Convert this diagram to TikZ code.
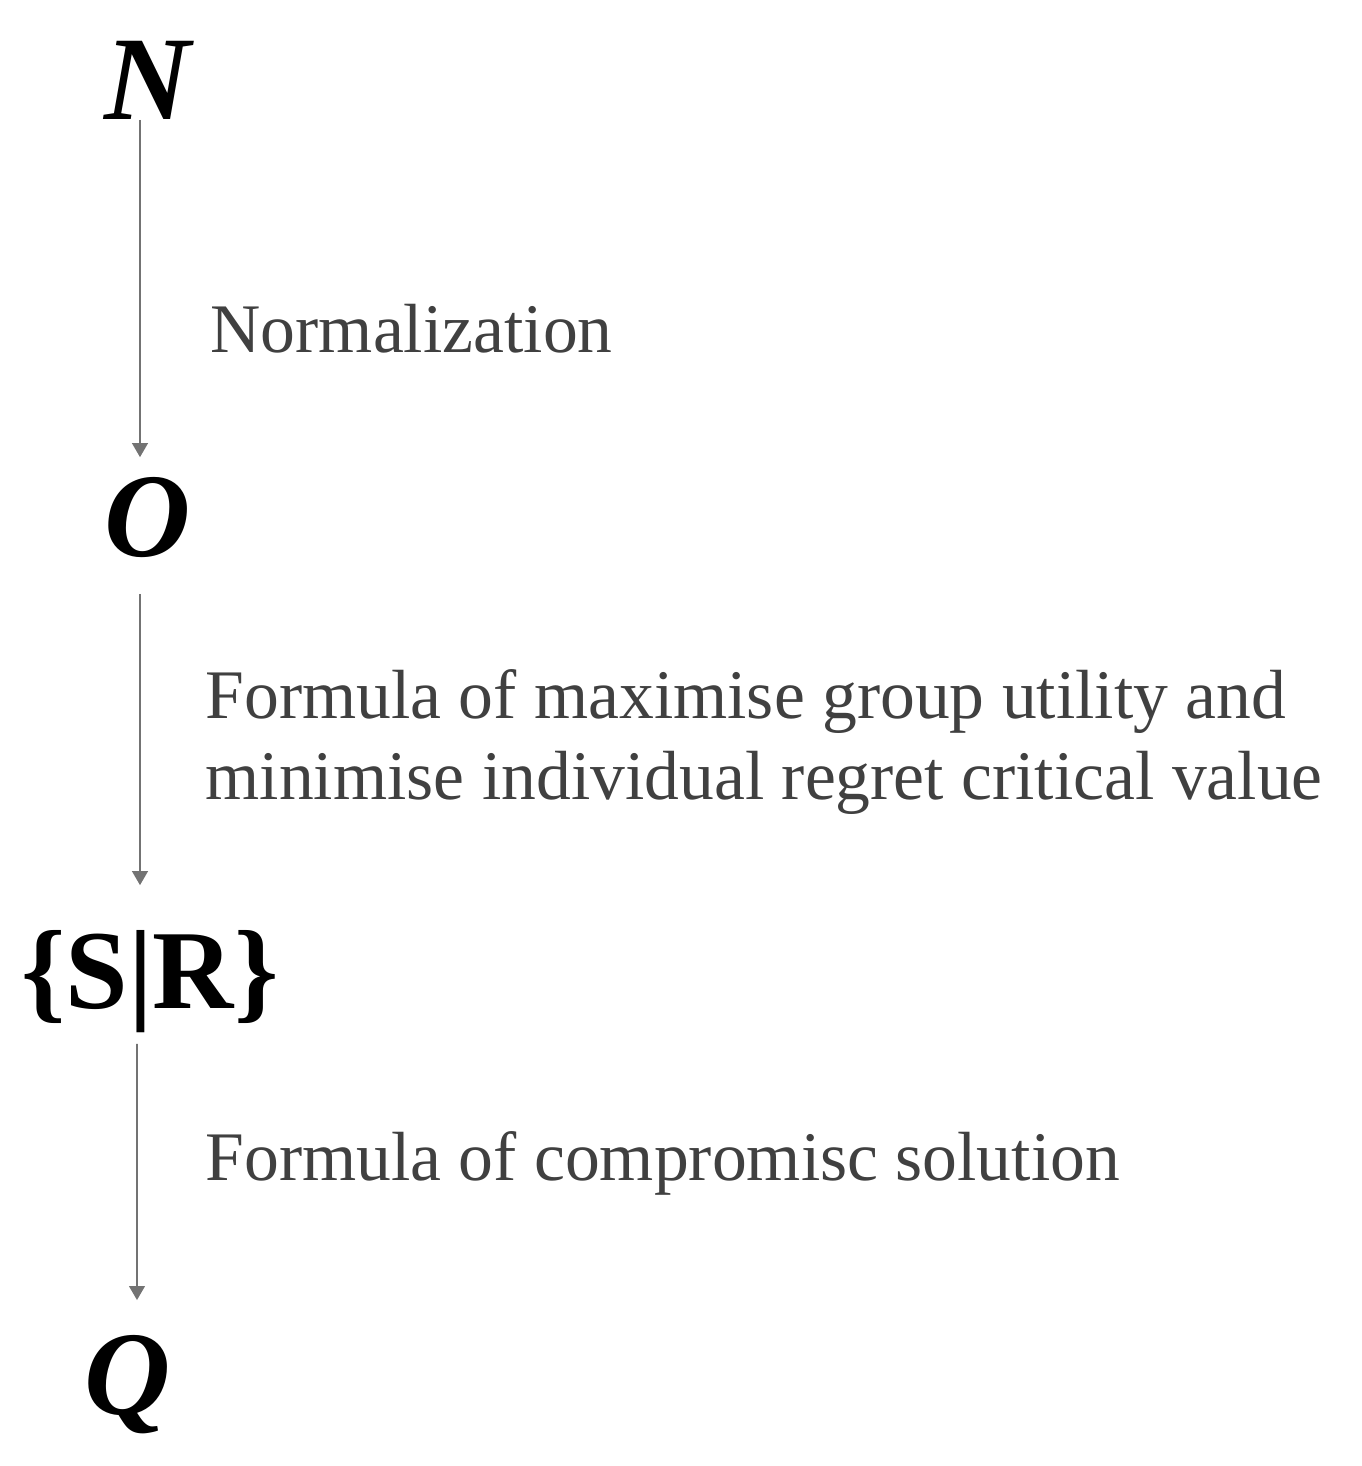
\documentclass[tikz,border=0pt]{standalone}
\usepackage{fontspec}
\setmainfont{Liberation Serif}
\usetikzlibrary{arrows.meta}

\begin{document}
\begin{tikzpicture}[
    letter/.style={inner sep=0pt, font=\fontsize{34}{40}\selectfont\bfseries\itshape},
    setnode/.style={inner sep=0pt, font=\fontsize{32}{38}\selectfont\bfseries},
    label/.style={inner sep=0pt, anchor=base west, align=left, text=black!75, font=\fontsize{19.8}{22.8}\selectfont},
    arrow/.style={black!55, line width=0.5pt, -{Triangle[width=4.5pt,length=4pt]}}
]
\useasboundingbox (0,0) rectangle (13.61,-14.66);

% Quantities
\node[letter] (N) at (1.48,-0.80) {N};
\node[letter] (O) at (1.48,-5.18) {O};
\node[setnode] (SR) at (1.50,-9.82) {\{S|R\}};
\node[letter] (Q) at (1.28,-13.85) {Q};

% Steps
\node[label] (norm) at (2.10,-3.52) {Normalization};
\node[label] (util) at (2.05,-7.99) {Formula of maximise group utility and\\minimise individual regret critical value};
\node[label] (comp) at (2.05,-11.80) {Formula of compromisc solution};

% Connectors
\draw[arrow] ([xshift=-0.08cm]N.south) -- ([xshift=-0.08cm, yshift=0.2cm]O.north);
\draw[arrow] ([xshift=-0.08cm, yshift=-0.35cm]O.south) -- ([xshift=-0.10cm, yshift=0.45cm]SR.north);
\draw[arrow] ([xshift=-0.13cm, yshift=-0.1cm]SR.south) -- ([xshift=0.09cm, yshift=0.35cm]Q.north);

\end{tikzpicture}
\end{document}
